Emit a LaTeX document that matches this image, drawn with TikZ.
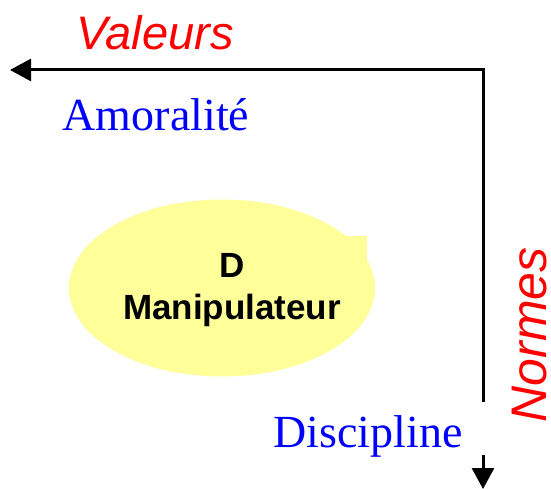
\documentclass[tikz,border=0pt]{standalone}
\usepackage{fontspec}
\setmainfont{Liberation Serif}
\setsansfont{Liberation Sans}
\usetikzlibrary{arrows.meta,shapes.geometric}
\definecolor{paleyellow}{RGB}{255,255,153}
\tikzset{
  axis/.style={line width=3pt, -{Triangle[length=21pt,width=22pt]}},
  axislabel/.style={text=red, font=\sffamily\itshape\fontsize{47}{47}\selectfont, inner sep=0pt},
  pole/.style={text=blue, font=\rmfamily\fontsize{46}{46}\selectfont, inner sep=0pt},
  bubble/.style={ellipse, fill=paleyellow, draw=none, minimum width=306pt, minimum height=177pt, inner sep=0pt},
  bubbletext/.style={font=\sffamily\bfseries\fontsize{35}{42}\selectfont, align=center, inner sep=0pt}
}
\begin{document}
\begin{tikzpicture}[x=1pt,y=-1pt]
\useasboundingbox (0,0) rectangle (551,489);
% ellipse with its square top corner
\node[bubble] (ell) at (222,288) {};
\fill[paleyellow] (97,236) rectangle (367,292);
\node[bubbletext, anchor=base] (d) at (232,277) {D};
\node[bubbletext, anchor=base] (manip) at (232,319) {Manipulateur};
% axes
\coordinate (corner) at (483,70);
\coordinate (lefttip) at (10,70);
\coordinate (gaptop) at (483,402);
\coordinate (gapbot) at (483,455);
\coordinate (bottomtip) at (483,489);
\draw[axis, line join=miter] (gaptop) -- (corner) -- (lefttip);
\draw[axis] (gapbot) -- (bottomtip);
% labels
\node[axislabel, anchor=base] (valeurs) at (155,50) {Valeurs};
\node[axislabel, anchor=base, rotate=90, font=\sffamily\itshape\fontsize{50}{50}\selectfont] (normes) at (546,335) {Normes};
\node[pole, anchor=base] (amor) at (156,131) {Amoralité};
\node[pole, anchor=base] (disc) at (368,447) {Discipline};
\end{tikzpicture}
\end{document}
